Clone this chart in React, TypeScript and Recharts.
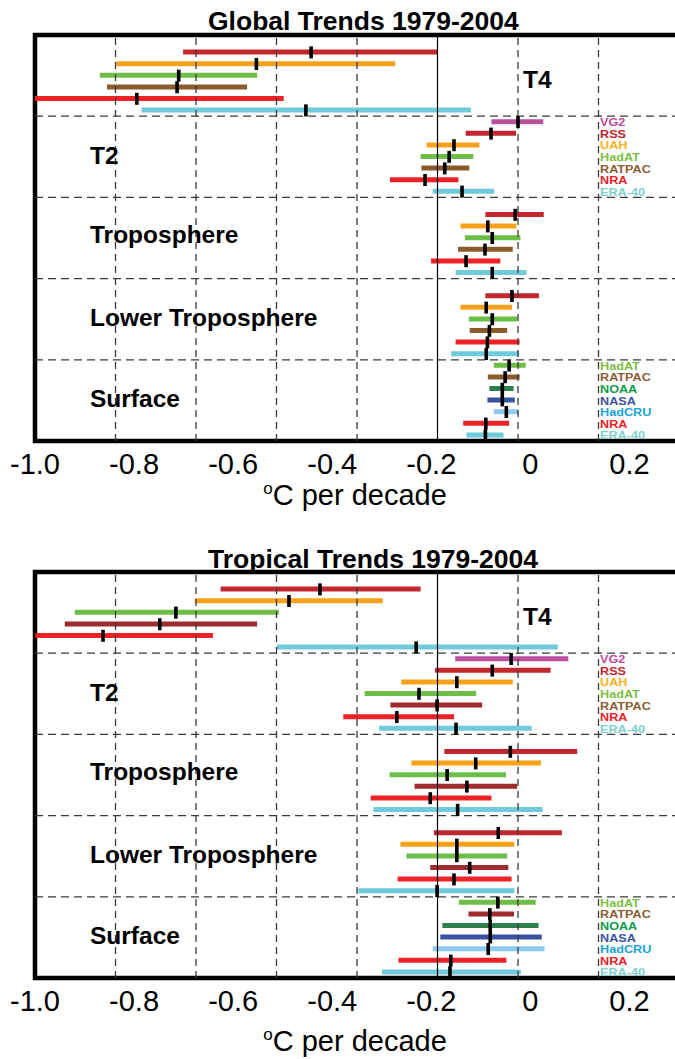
import React from "react";
import {
  ComposedChart,
  Bar,
  Line,
  XAxis,
  YAxis,
  ReferenceLine,
  ReferenceArea,
  Cell,
} from "recharts";

// ---------- categories ----------
const SECTION_NAMES = ["T4", "T2", "Troposphere", "Lower Troposphere", "Surface"];
const UPPER_SETS = ["VG2", "RSS", "UAH", "HadAT", "RATPAC", "NRA", "ERA-40"];
const SURFACE_SETS = ["HadAT", "RATPAC", "NOAA", "NASA", "HadCRU", "NRA", "ERA-40"];

// ---------- axis ----------
const X_TICKS = [-1.0, -0.8, -0.6, -0.4, -0.2, 0, 0.2];
const X_TICK_LABELS = ["-1.0", "-0.8", "-0.6", "-0.4", "-0.2", "0", "0.2"];
const LABEL_DOMAIN = [-1.0, 0.3];
const VALUE_DOMAIN = [-1.0, 0.6];
const GRID_VALUES = [-0.8, -0.6, -0.4, -0.2, 0.2, 0.4];

// ---------- data: [low, trend, high] in °C per decade ----------
const GLOBAL_T4 = [null, [-0.632, -0.314, 0.001], [-0.798, -0.45, -0.105], [-0.839, -0.643, -0.448], [-0.821, -0.647, -0.473], [-1.0, -0.747, -0.382], [-0.735, -0.327, 0.083]];
const GLOBAL_T2 = [[0.134, 0.2, 0.263], [0.07, 0.133, 0.195], [-0.027, 0.041, 0.104], [-0.042, 0.029, 0.089], [-0.04, 0.018, 0.079], [-0.118, -0.031, 0.052], [-0.012, 0.061, 0.141]];
const GLOBAL_TROP = [null, [0.119, 0.193, 0.264], [0.057, 0.125, 0.196], [0.068, 0.136, 0.206], [0.051, 0.118, 0.187], [-0.016, 0.071, 0.156], [0.045, 0.136, 0.221]];
const GLOBAL_LT = [null, [0.119, 0.185, 0.252], [0.057, 0.121, 0.185], [0.078, 0.136, 0.198], [0.08, 0.129, 0.173], [0.045, 0.124, 0.204], [0.034, 0.121, 0.203]];
const GLOBAL_SFC = [[0.14, 0.178, 0.219], [0.125, 0.168, 0.204], [0.129, 0.161, 0.189], [0.124, 0.161, 0.192], [0.14, 0.171, 0.202], [0.064, 0.12, 0.178], [0.072, 0.119, 0.164]];

const TROPICAL_T4 = [null, [-0.539, -0.292, -0.042], [-0.603, -0.369, -0.136], [-0.901, -0.65, -0.394], [-0.926, -0.69, -0.448], [-0.999, -0.831, -0.558], [-0.399, -0.053, 0.299]];
const TROPICAL_T2 = [[0.044, 0.183, 0.325], [-0.006, 0.136, 0.281], [-0.09, 0.048, 0.187], [-0.181, -0.046, 0.096], [-0.117, -0.001, 0.111], [-0.234, -0.101, 0.041], [-0.145, 0.046, 0.234]];
const TROPICAL_TROP = [null, [0.017, 0.181, 0.347], [-0.065, 0.095, 0.257], [-0.119, 0.024, 0.17], [-0.057, 0.073, 0.198], [-0.166, -0.018, 0.134], [-0.159, 0.05, 0.261]];
const TROPICAL_LT = [null, [-0.009, 0.151, 0.309], [-0.092, 0.048, 0.191], [-0.077, 0.048, 0.173], [-0.018, 0.08, 0.176], [-0.099, 0.041, 0.184], [-0.197, -0.001, 0.191]];
const TROPICAL_SFC = [[0.053, 0.15, 0.244], [0.077, 0.13, 0.19], [0.012, 0.131, 0.251], [0.007, 0.131, 0.259], [-0.012, 0.126, 0.266], [-0.097, 0.033, 0.171], [-0.138, 0.031, 0.207]];

// ---------- colours ----------
const BAR_COLORS: Record<string, string> = {
  VG2: "#b8519f",
  RSS: "#c1272d",
  UAH: "#f8a21c",
  HadAT: "#6dbe46",
  RATPAC: "#8c5b2c",
  NRA: "#ee2226",
  "ERA-40": "#6fcadc",
  NOAA: "#2d7f4e",
  NASA: "#3652a2",
  HadCRU: "#8ccaf0",
};
const TROPICAL_RATPAC_BAR = "#9e2b2d";
const LEGEND_COLORS: Record<string, string> = {
  VG2: "#c2489c",
  RSS: "#c1272d",
  UAH: "#fbb318",
  HadAT: "#7ac143",
  RATPAC: "#8b5e34",
  NRA: "#ed1c24",
  "ERA-40": "#7fd0d0",
  NOAA: "#0b9b4a",
  NASA: "#3b53a3",
  HadCRU: "#1aa3d9",
};

const FONT = '"Liberation Sans", Arial, Helvetica, sans-serif';
const SECTION_LABEL_SHIFT = [4, -2, -4, -2, -2];

type Triple = number[] | null;

function buildRows(sections: Triple[][], tropical: boolean) {
  const rows: any[] = [];
  sections.forEach((sec, s) => {
    const sets = s === 4 ? SURFACE_SETS : UPPER_SETS;
    sec.forEach((v, i) => {
      const set = sets[i];
      let color = BAR_COLORS[set];
      if (tropical && set === "RATPAC") color = TROPICAL_RATPAC_BAR;
      rows.push({
        row: `${s}-${i}`,
        set,
        range: v ? [v[0], v[2]] : null,
        center: v ? v[1] : null,
        color,
      });
    });
  });
  return rows;
}

const GLOBAL_ROWS = buildRows([GLOBAL_T4, GLOBAL_T2, GLOBAL_TROP, GLOBAL_LT, GLOBAL_SFC], false);
const TROPICAL_ROWS = buildRows([TROPICAL_T4, TROPICAL_T2, TROPICAL_TROP, TROPICAL_LT, TROPICAL_SFC], true);

const CHART_W = 700;
const PLOT_TOP = 35;
const PLOT_H = 406;
const YAXIS_W = 35;
const XAXIS_H = 40;
const CHART_H = PLOT_TOP + PLOT_H + XAXIS_H;

function YTick(props: any) {
  const { y, payload } = props;
  const id: string = payload && payload.value ? String(payload.value) : "";
  const [sStr, iStr] = id.split("-");
  const s = Number(sStr);
  const i = Number(iStr);
  const items: any[] = [];
  if ((s === 1 || s === 4) && !isNaN(i)) {
    const set = (s === 4 ? SURFACE_SETS : UPPER_SETS)[i];
    items.push(
      <text
        key="lg"
        transform={`translate(600 ${y}) scale(1.15 1.05)`}
        x={0}
        y={0}
        dy="0.37em"
        fontSize={11}
        fontWeight="bold"
        fontFamily={FONT}
        fill={LEGEND_COLORS[set]}
        textAnchor="start"
      >
        {set}
      </text>
    );
  }
  if (i === 3) {
    const isT4 = s === 0;
    items.push(
      <text
        key="gl"
        x={isT4 ? 523 : 90}
        y={y + SECTION_LABEL_SHIFT[s]}
        dy="0.36em"
        fontSize={24.5}
        fontWeight="bold"
        fontFamily={FONT}
        fill="#000"
        textAnchor="start"
      >
        {SECTION_NAMES[s]}
      </text>
    );
  }
  return <g>{items}</g>;
}

function CenterMark(props: any) {
  const { cx, cy, value } = props;
  if (value == null || cx == null || cy == null || isNaN(cx) || isNaN(cy)) return <g key={props.key} />;
  return <rect key={props.key} x={cx - 1.8} y={cy - 6} width={3.6} height={12} fill="#000" />;
}

function Panel({ rows }: { rows: any[] }) {
  const sepRows = ["1-0", "2-0", "3-0", "4-0"];
  return (
    <ComposedChart
      width={CHART_W}
      height={CHART_H}
      data={rows}
      layout="vertical"
      margin={{ top: PLOT_TOP, right: CHART_W - 679, left: 0, bottom: 0 }}
      barCategoryGap={0}
    >
      <XAxis xAxisId="val" type="number" domain={VALUE_DOMAIN} hide allowDataOverflow />
      <XAxis
        xAxisId="lab"
        type="number"
        domain={LABEL_DOMAIN}
        ticks={X_TICKS}
        interval={0}
        allowDataOverflow
        tickFormatter={(v: number) => {
          const k = X_TICKS.findIndex((t) => Math.abs(t - v) < 1e-9);
          return k >= 0 ? X_TICK_LABELS[k] : "";
        }}
        tickLine={false}
        axisLine={false}
        tickSize={0}
        tickMargin={12}
        height={XAXIS_H}
        tick={{ fontSize: 29, fill: "#000", fontFamily: FONT }}
      />
      <YAxis
        type="category"
        dataKey="row"
        width={YAXIS_W}
        interval={0}
        tickLine={false}
        axisLine={false}
        tickSize={0}
        tickMargin={0}
        tick={<YTick />}
      />
      {GRID_VALUES.map((g) => (
        <ReferenceLine
          key={"g" + g}
          xAxisId="val"
          x={g}
          stroke="#3a3a3a"
          strokeWidth={1.3}
          strokeDasharray="7 5"
        />
      ))}
      {sepRows.map((r) => (
        <ReferenceLine
          key={"s" + r}
          xAxisId="val"
          y={r}
          position="start"
          stroke="#3a3a3a"
          strokeWidth={1.3}
          strokeDasharray="8 5"
        />
      ))}
      <ReferenceLine xAxisId="val" x={0} stroke="#000" strokeWidth={1.2} />
      <Bar xAxisId="val" dataKey="range" barSize={5} isAnimationActive={false}>
        {rows.map((r, k) => (
          <Cell key={k} fill={r.color} />
        ))}
      </Bar>
      <Line
        xAxisId="val"
        dataKey="center"
        stroke="none"
        dot={(p: any) => <CenterMark {...p} />}
        activeDot={false}
        isAnimationActive={false}
        connectNulls={false}
      />
      <ReferenceArea
        xAxisId="val"
        x1={-1.0}
        x2={0.6}
        y1="0-0"
        y2="4-6"
        fill="none"
        stroke="#000"
        strokeWidth={4.5}
        ifOverflow="visible"
      />
    </ComposedChart>
  );
}

const PANEL_TOPS = [0, 537];
const TITLES = ["Global Trends 1979-2004", "Tropical Trends 1979-2004"];
const TITLE_BASELINES = [29.5, 567.5];
const XLABEL_BASELINES = [505, 1051];

export default function App() {
  return (
    <div
      style={{
        position: "fixed",
        left: 0,
        top: 0,
        width: 675,
        height: 1059,
        overflow: "hidden",
        background: "#fff",
        fontFamily: FONT,
      }}
    >
      {[GLOBAL_ROWS, TROPICAL_ROWS].map((rows, k) => (
        <div key={k} style={{ position: "absolute", left: 0, top: PANEL_TOPS[k] }}>
          <Panel rows={rows} />
        </div>
      ))}
      <svg
        width={675}
        height={1059}
        style={{ position: "absolute", left: 0, top: 0, pointerEvents: "none" }}
      >
        {TITLES.map((t, k) => (
          <text
            key={"t" + k}
            x={208}
            y={TITLE_BASELINES[k]}
            fontSize={26.5}
            fontWeight="bold"
            fontFamily={FONT}
            fill="#000"
          >
            {t}
          </text>
        ))}
        {XLABEL_BASELINES.map((b, k) => (
          <text
            key={"x" + k}
            x={355}
            y={b}
            fontSize={29}
            fontFamily={FONT}
            fill="#000"
            textAnchor="middle"
          >
            <tspan fontSize={17} dy={-11}>o</tspan>
            <tspan dy={11}>C per decade</tspan>
          </text>
        ))}
      </svg>
    </div>
  );
}
